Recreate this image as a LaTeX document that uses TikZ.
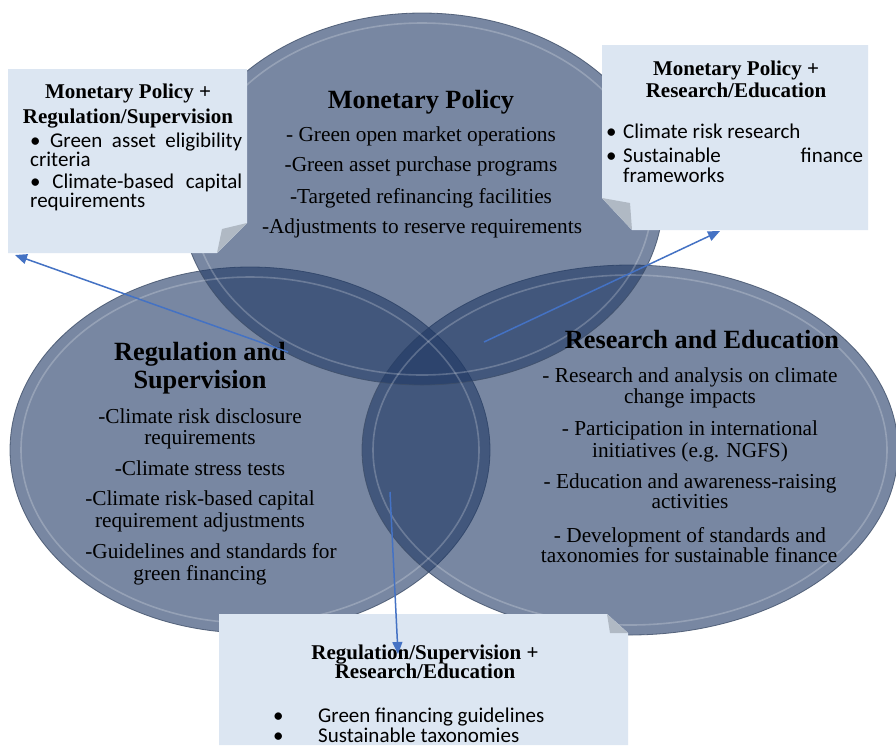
\documentclass[tikz,border=0pt]{standalone}
\usepackage{fontspec}
\setmainfont{Liberation Serif}
\newfontfamily\calfont{Carlito}
\usetikzlibrary{arrows.meta}
\definecolor{ellfill}{RGB}{31,56,100}
\definecolor{boxfill}{RGB}{220,230,242}
\definecolor{foldgray}{RGB}{176,185,196}
\definecolor{arrowblue}{RGB}{68,114,196}
\definecolor{ellline}{RGB}{62,78,104}
\begin{document}
\begin{tikzpicture}[x=1pt,y=-1pt,
  venn/.style={fill=ellfill, fill opacity=0.6, draw=ellline, draw opacity=0.8, line width=0.8pt},
  rim/.style={draw=white, draw opacity=0.22, line width=1.6pt},
  tline/.style={anchor=base, inner sep=0pt, font=\fontsize{21.3}{23}\selectfont},
  ttitle/.style={anchor=base, inner sep=0pt, font=\bfseries\fontsize{26.3}{28}\selectfont},
  btitle/.style={anchor=base, inner sep=0pt, font=\bfseries\fontsize{21}{23}\selectfont},
  bline/.style={anchor=base west, inner sep=0pt, font=\calfont\fontsize{21}{23}\selectfont},
  callout/.style={fill=boxfill},
  fold/.style={fill=foldgray},
  link/.style={draw=arrowblue, line width=1.5pt, -{Triangle[length=12pt,width=10pt]}}
]
\useasboundingbox (0,0) rectangle (896,745);
\fill[white] (0,0) rectangle (896,745);

% ellipses
\path[venn] (250,450) ellipse [x radius=240pt, y radius=183pt];
\path[venn] (630,450) ellipse [x radius=268pt, y radius=185pt];
\path[venn] (422,199) ellipse [x radius=241pt, y radius=186pt];
\path[rim] (250,450) ellipse [x radius=229pt, y radius=173pt];
\path[rim] (630,450) ellipse [x radius=257pt, y radius=175pt];
\path[rim] (422,199) ellipse [x radius=230pt, y radius=176pt];

% Monetary Policy text
\node[ttitle] (mpT) at (421,108) {Monetary Policy};
\node[tline] (mp1) at (421,141) {- Green open market operations};
\node[tline] (mp2) at (421,171) {-Green asset purchase programs};
\node[tline] (mp3) at (421,203) {-Targeted refinancing facilities};
\node[tline] (mp4) at (422,233) {-Adjustments to reserve requirements};

% Regulation text
\node[ttitle] (rsT1) at (200,360) {Regulation and};
\node[ttitle] (rsT2) at (200,388) {Supervision};
\node[tline] (rs1) at (200,423) {-Climate risk disclosure};
\node[tline] (rs2) at (200,444) {requirements};
\node[tline] (rs3) at (200,475) {-Climate stress tests};
\node[tline] (rs4) at (200,505) {-Climate risk-based capital};
\node[tline] (rs5) at (200,527) {requirement adjustments};
\node[tline] (rs6) at (211,558) {-Guidelines and standards for};
\node[tline] (rs7) at (200,580) {green financing};

% Research text
\node[ttitle] (reT) at (702,348) {Research and Education};
\node[tline] (re1) at (690,382) {- Research and analysis on climate};
\node[tline] (re2) at (690,403) {change impacts};
\node[tline] (re3) at (690,435) {- Participation in international};
\node[tline] (re4) at (690,457) {initiatives (e.g. NGFS)};
\node[tline] (re5) at (690,488) {- Education and awareness-raising};
\node[tline] (re6) at (690,508) {activities};
\node[tline] (re7) at (690,542) {- Development of standards and};
\node[tline] (re8) at (689,562) {taxonomies for sustainable finance};

% callout boxes
\fill[callout] (8,69) -- (247,69) -- (247,223) -- (217,253) -- (8,253) -- cycle;
\fill[fold] (247,223) -- (217,253) -- (222,229) -- cycle;
\fill[callout] (602,45) -- (868,45) -- (868,230) -- (632,230) -- (602,198) -- cycle;
\fill[fold] (602,198) -- (632,230) -- (630,203) -- cycle;
\fill[callout] (219,614) -- (607,614) -- (628,633) -- (628,745) -- (219,745) -- cycle;
\fill[fold] (607,614) -- (628,633) -- (610,633) -- cycle;

% box 1
\node[btitle] (b1T1) at (128,98) {Monetary Policy +};
\node[btitle] (b1T2) at (128,123) {Regulation/Supervision};
\node[bline] (b1a) at (30,147) {\makebox[212pt][s]{\textbullet\ Green asset eligibility}};
\node[bline] (b1b) at (30,166) {criteria};
\node[bline] (b1c) at (30,188) {\makebox[212pt][s]{\textbullet\ Climate-based capital}};
\node[bline] (b1d) at (30,207) {requirements};

% box 2
\node[btitle] (b2T1) at (736,75) {Monetary Policy +};
\node[btitle] (b2T2) at (736,97) {Research/Education};
\node[bline] (b2d1) at (606,138) {\textbullet};
\node[bline] (b2a) at (623,138) {Climate risk research};
\node[bline] (b2d2) at (606,162) {\textbullet};
\node[bline] (b2b) at (623,162) {\makebox[240pt][s]{Sustainable finance}};
\node[bline] (b2c) at (623,182) {frameworks};

% box 3
\node[btitle] (b3T1) at (425,659) {Regulation/Supervision +};
\node[btitle] (b3T2) at (425,678) {Research/Education};
\node[bline] (b3d1) at (273,722) {\textbullet};
\node[bline] (b3a) at (318,722) {Green financing guidelines};
\node[bline] (b3d2) at (273,742) {\textbullet};
\node[bline] (b3b) at (318,742) {Sustainable taxonomies};

% connectors
\coordinate (s1) at (288,352);
\coordinate (e1) at (15,255);
\coordinate (s2) at (484,342);
\coordinate (e2) at (720,231);
\coordinate (s3) at (390,492);
\coordinate (e3) at (398,654);
\draw[link] (s1) -- (e1);
\draw[link] (s2) -- (e2);
\draw[link] (s3) -- (e3);
\end{tikzpicture}
\end{document}
